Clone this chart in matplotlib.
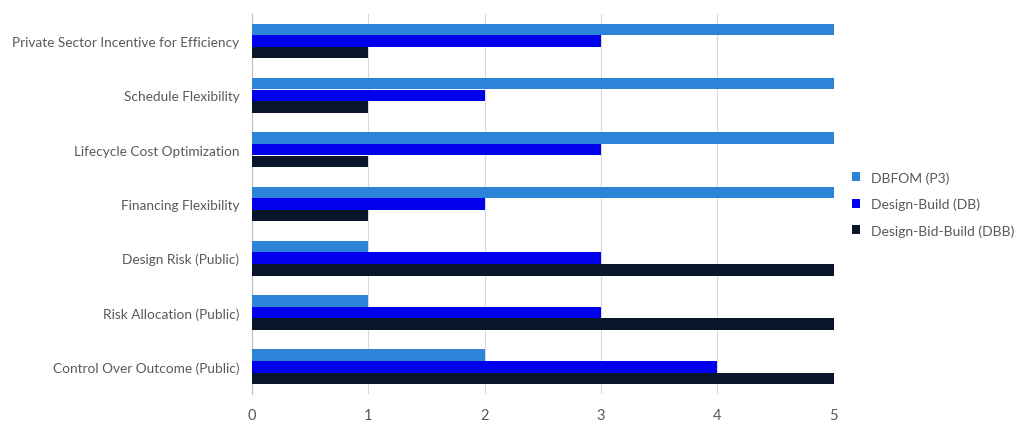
import matplotlib
matplotlib.use("Agg")
import matplotlib.pyplot as plt
import numpy as np

categories = ["Private Sector Incentive for Efficiency", "Schedule Flexibility",
              "Lifecycle Cost Optimization", "Financing Flexibility",
              "Design Risk (Public)", "Risk Allocation (Public)", "Control Over Outcome (Public)"]
dbfom = [5, 5, 5, 5, 1, 1, 2]
db = [3, 2, 3, 2, 3, 3, 4]
dbb = [1, 1, 1, 1, 5, 5, 5]
series = [("DBFOM (P3)", dbfom, "#2B84D8"), ("Design-Build (DB)", db, "#0000EE"),
          ("Design-Bid-Build (DBB)", dbb, "#08152B")]

plt.rcParams['font.family'] = ['Lato', 'DejaVu Sans']
fig = plt.figure(figsize=(10.24, 4.35), dpi=100)
ax = fig.add_axes([0.246, 0.092, 0.568, 0.874])
y = np.arange(len(categories))
h = 0.21
for i, (name, vals, col) in enumerate(series):
    ax.barh(y + (i - 1) * (h + 0.005), vals, height=h, color=col, label=name, zorder=3)
ax.set_yticks(y)
ax.set_yticklabels(categories, fontsize=9.8, color="#595959")
ax.set_ylim(len(categories) - 0.5, -0.5)
ax.set_xlim(0, 5)
ax.set_xticks(range(6))
ax.tick_params(axis='x', colors="#595959", labelsize=10.5, length=0, pad=10)
ax.tick_params(axis='y', length=0, pad=9)
ax.grid(axis='x', color="#D9D9D9", linewidth=0.8, zorder=0)
for s in ["top", "right", "bottom"]:
    ax.spines[s].set_visible(False)
ax.spines["left"].set_color("#BFBFBF")
leg = ax.legend(loc="center left", bbox_to_anchor=(1.01, 0.5), frameon=False,
                fontsize=10, handlelength=0.6, handleheight=0.6, labelspacing=1.0)
for t in leg.get_texts():
    t.set_color("#595959")
fig.savefig("out.png", dpi=100)
